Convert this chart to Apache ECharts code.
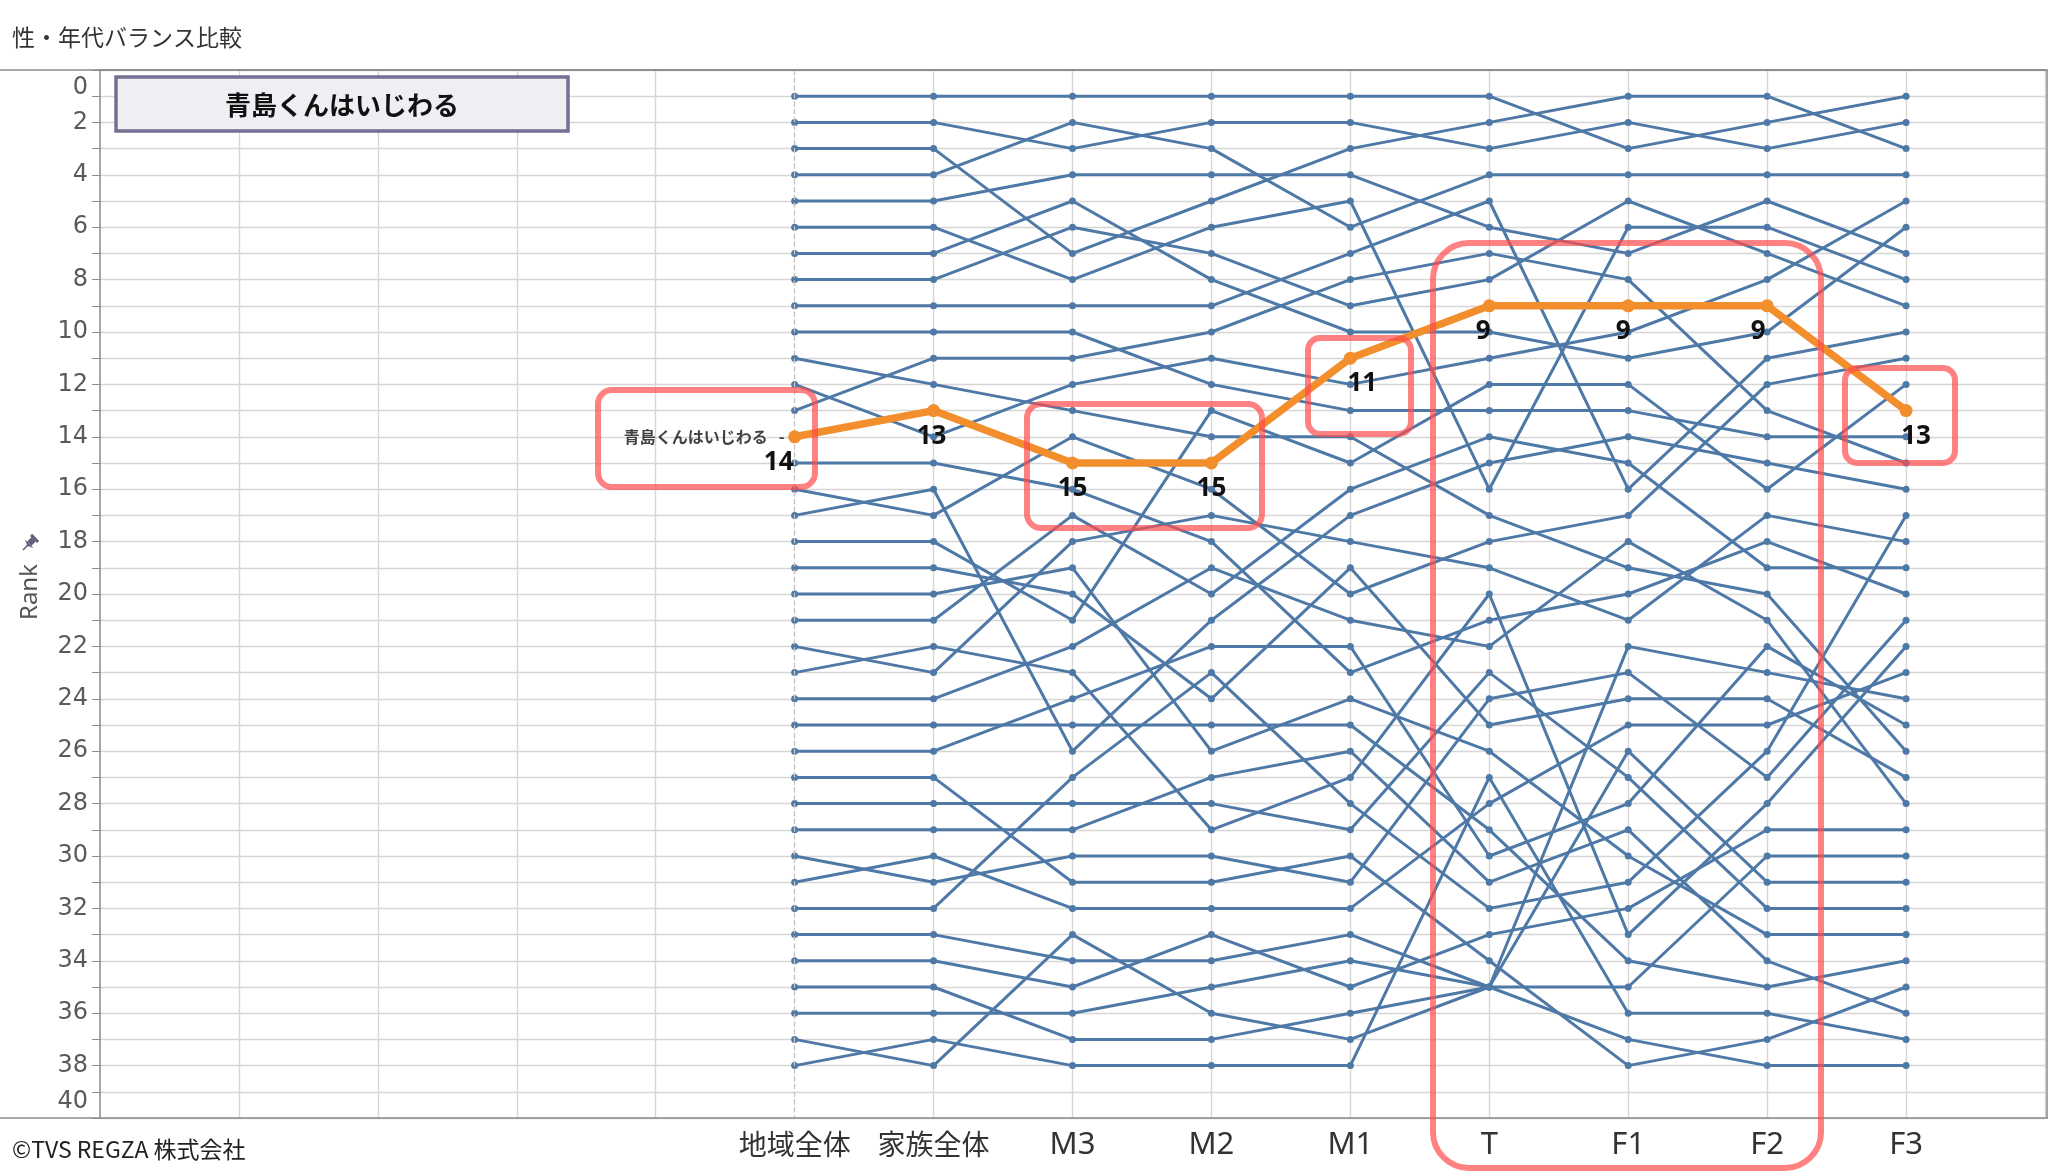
<!DOCTYPE html>
<html>
<head>
<meta charset="utf-8">
<script src="https://cdn.jsdelivr.net/npm/echarts@6/dist/echarts.min.js"></script>
<style>
html,body{margin:0;padding:0;background:#ffffff;}
#chart{width:2048px;height:1174px;}
</style>
</head>
<body>
<div id="chart"></div>
<script>
// ---------------- data ----------------
const chartTitle = '性・年代バランス比較';
const highlightName = '青島くんはいじわる';
const footerText = '©TVS REGZA 株式会社';
const categories = ['地域全体', '家族全体', 'M3', 'M2', 'M1', 'T', 'F1', 'F2', 'F3'];
const xTickLabels = ['', '', '', '', '', '地域全体', '家族全体', 'M3', 'M2', 'M1', 'T', 'F1', 'F2', 'F3', ''];

// rank of each programme (same programme order in every array)
const rankChiiki = [1,2,3,4,5,6,7,8,9,10,11,12,13,14,15,16,17,18,19,20,21,22,23,24,25,26,27,28,29,30,31,32,33,34,35,36,37,38];
const rankKazoku = [1,2,3,4,5,6,7,8,9,10,12,14,11,13,15,17,16,18,19,20,21,23,22,24,25,26,27,28,29,31,30,32,33,34,35,36,38,37];
const rankM3     = [1,3,7,2,4,8,5,6,9,10,13,12,11,15,16,14,26,21,20,19,17,18,23,22,25,24,31,28,29,30,32,27,34,35,37,36,33,38];
const rankM2     = [1,2,5,3,4,6,8,7,9,12,14,11,10,15,18,16,21,13,24,26,20,17,29,19,25,22,31,28,27,30,32,23,34,33,37,35,36,38];
const rankM1     = [1,2,3,6,4,5,10,9,7,13,14,12,8,11,23,20,17,15,19,24,16,18,27,21,25,22,30,29,26,31,32,28,33,35,36,34,37,38];
const rankT      = [1,3,2,4,6,16,10,8,5,13,17,11,7,9,21,18,15,12,25,26,14,19,20,22,29,30,34,23,31,24,28,32,35,33,35,35,35,27];
const rankF1     = [3,2,1,4,7,6,11,5,16,13,19,10,8,9,20,17,14,12,24,30,15,21,33,18,34,28,38,27,29,23,25,31,22,32,35,26,37,36];
const rankF2     = [2,3,1,4,5,6,10,7,11,14,20,8,13,9,18,12,15,16,24,33,19,17,28,21,35,22,37,32,34,27,25,26,23,29,30,31,38,36];
const rankF3     = [1,2,3,4,7,8,6,9,10,14,26,5,15,13,20,11,16,12,27,33,19,18,22,28,34,25,35,32,36,21,23,17,24,29,30,31,38,37];
const highlightIndex = 13;

// ---------------- chart ----------------
const columns = [rankChiiki, rankKazoku, rankM3, rankM2, rankM1, rankT, rankF1, rankF2, rankF3];
const BLUE = '#4e79a7';
const ORANGE = '#f28e2b';
const series = [];
let first = true;
for (let p = 0; p < rankChiiki.length; p++) {
  if (p === highlightIndex) continue;
  const s = {
    type: 'line',
    data: categories.map((c, k) => [c, columns[k][p]]),
    symbol: 'circle', symbolSize: 7,
    lineStyle: {color: BLUE, width: 3},
    itemStyle: {color: BLUE},
    silent: true, animation: false, z: 2
  };
  if (first) {
    s.markLine = {
      silent: true, symbol: 'none', label: {show: false},
      lineStyle: {type: 'dashed', color: '#c4c4c4', width: 1.3},
      data: [{xAxis: categories[0]}]
    };
    first = false;
  }
  series.push(s);
}
const labelOffsets = [[-16,0],[-2,0],[0,0],[0,0],[12,0],[-6,0],[-5,0],[-9,0],[10,0]];
series.push({
  type: 'line', name: highlightName,
  data: categories.map((c, k) => ({value: [c, columns[k][highlightIndex]], label: {offset: labelOffsets[k]}})),
  symbol: 'circle', symbolSize: 13,
  lineStyle: {color: ORANGE, width: 7.5},
  itemStyle: {color: ORANGE},
  label: {show: true, position: 'bottom', distance: 6, formatter: (q) => q.value[1],
          fontSize: 26, fontWeight: 'bold', color: '#111', fontFamily: 'Noto Sans'},
  silent: true, animation: false, z: 6
});
series.push({
  type: 'scatter',
  data: [[categories[0], columns[0][highlightIndex]]],
  symbolSize: 0,
  label: {show: true, position: 'left', distance: 10, formatter: highlightName + '   -',
          fontSize: 16, fontWeight: 'bold', color: '#111', fontFamily: 'Noto Sans CJK JP'},
  silent: true, animation: false, z: 7
});

const redBox = (x1, y1, x2, y2, r) => ({
  type: 'rect', silent: true, z: 100,
  shape: {x: x1, y: y1, width: x2 - x1, height: y2 - y1, r: r},
  style: {fill: 'none', stroke: 'rgba(255,75,75,0.7)', lineWidth: 6}
});

const chart = echarts.init(document.getElementById('chart'), null, {renderer: 'canvas'});
chart.setOption({
  backgroundColor: '#ffffff',
  animation: false,
  title: {text: chartTitle, left: 7, top: 21,
          textStyle: {fontSize: 23, fontWeight: 'normal', color: '#333', fontFamily: 'Noto Sans CJK JP'}},
  grid: {left: 100, right: 1, top: 70, bottom: 56, containLabel: false},
  xAxis: {
    type: 'category', data: xTickLabels, boundaryGap: false,
    axisLine: {show: true, lineStyle: {color: '#8a8a8a', width: 1.5}},
    axisTick: {show: false},
    axisLabel: {
      interval: 0, margin: 12,
      formatter: (v) => v === '' ? '' : (/^[A-Z0-9]+$/.test(v) ? '{lat|' + v + '}' : '{cjk|' + v + '}'),
      rich: {
        lat: {fontSize: 31, color: '#333', fontFamily: 'Noto Sans'},
        cjk: {fontSize: 28, color: '#333', fontFamily: 'Noto Sans CJK JP'}
      }
    },
    splitLine: {show: true, interval: (i) => i !== 5 && i !== 0, lineStyle: {color: '#d6d6d6', width: 1.4}}
  },
  yAxis: {
    type: 'value', inverse: true, min: 0, max: 40, interval: 2,
    axisLine: {show: true, lineStyle: {color: '#8a8a8a', width: 1.5}},
    axisTick: {show: true, length: 8, lineStyle: {color: '#8a8a8a'}},
    minorTick: {show: true, splitNumber: 2, length: 8, lineStyle: {color: '#8a8a8a'}},
    axisLabel: {
      fontSize: 24, color: '#5a5a5a', fontFamily: 'DejaVu Sans', margin: 12,
      formatter: (v) => v === 0 ? '{a|0}' : (v === 40 ? '{b|40}' : String(v)),
      rich: {
        a: {fontSize: 24, color: '#5a5a5a', fontFamily: 'DejaVu Sans', padding: [36, 0, 0, 0]},
        b: {fontSize: 24, color: '#5a5a5a', fontFamily: 'DejaVu Sans', padding: [0, 0, 32, 0]}
      }
    },
    splitLine: {show: true, lineStyle: {color: '#d6d6d6', width: 1.4}},
    minorSplitLine: {show: true, lineStyle: {color: '#d6d6d6', width: 1.4}}
  },
  series: series,
  graphic: [
    {type: 'line', silent: true, z: 50, shape: {x1: 0, y1: 70, x2: 2048, y2: 70}, style: {stroke: '#8a8a8a', lineWidth: 1.5}},
    {type: 'line', silent: true, z: 50, shape: {x1: 0, y1: 1118, x2: 2048, y2: 1118}, style: {stroke: '#8a8a8a', lineWidth: 1.5}},
    {type: 'line', silent: true, z: 50, shape: {x1: 2047, y1: 70, x2: 2047, y2: 1118}, style: {stroke: '#8a8a8a', lineWidth: 1.5}},
    {type: 'rect', silent: true, z: 60, shape: {x: 116, y: 77, width: 452, height: 54},
     style: {fill: '#efeff3', stroke: '#776e93', lineWidth: 3.5}},
    {type: 'text', silent: true, z: 61, x: 342, y: 105,
     style: {text: highlightName, fill: '#111', font: 'bold 26px "Noto Sans CJK JP"',
             textAlign: 'center', textVerticalAlign: 'middle', align: 'center', verticalAlign: 'middle'}},
    {type: 'text', silent: true, z: 61, x: 12, y: 1149,
     style: {text: footerText, fill: '#222', font: '23px "Noto Sans CJK JP"',
             textAlign: 'left', textVerticalAlign: 'middle', align: 'left', verticalAlign: 'middle'}},
    {type: 'text', silent: true, z: 61, x: 30, y: 592, rotation: Math.PI / 2,
     style: {text: 'Rank', fill: '#555', font: '24px "Noto Sans"',
             textAlign: 'center', textVerticalAlign: 'middle', align: 'center', verticalAlign: 'middle'}},
    {type: 'group', silent: true, z: 61, x: 30, y: 543, rotation: -Math.PI / 4, children: [
      {type: 'rect', shape: {x: -5, y: -8, width: 10, height: 3}, style: {fill: '#5f5f77'}},
      {type: 'rect', shape: {x: -3, y: -5, width: 6, height: 6}, style: {fill: '#5f5f77'}},
      {type: 'polygon', shape: {points: [[-6, 1], [6, 1], [0, 4]]}, style: {fill: '#5f5f77'}},
      {type: 'line', shape: {x1: 0, y1: 3, x2: 0, y2: 10}, style: {stroke: '#5f5f77', lineWidth: 1.5}}
    ]},
    redBox(598, 390, 815, 487, 14),
    redBox(1027, 404, 1262, 528, 14),
    redBox(1308, 338, 1411, 434, 12),
    redBox(1433, 243, 1821, 1168, 36),
    redBox(1845, 368, 1955, 463, 12)
  ]
});
</script>
</body>
</html>
